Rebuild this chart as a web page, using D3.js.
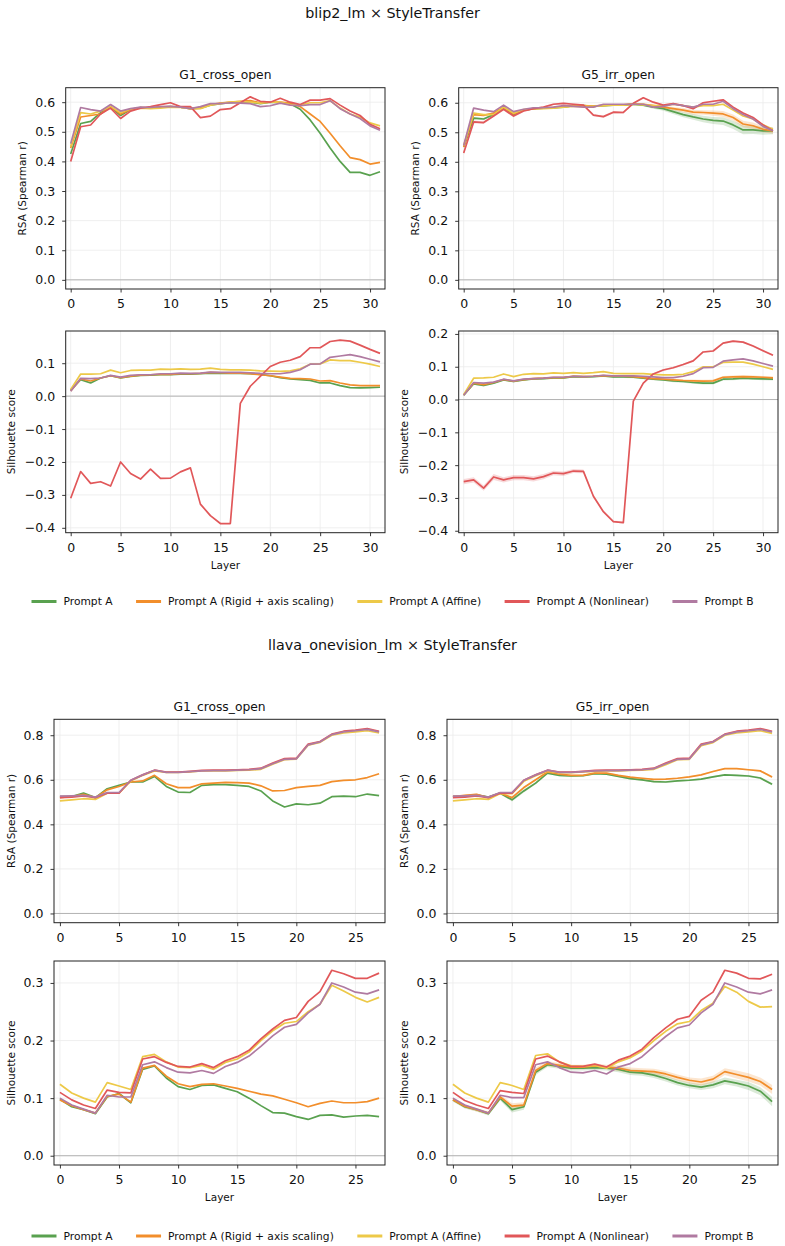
<!DOCTYPE html>
<html>
<head>
<meta charset="utf-8">
<script src="https://cdn.jsdelivr.net/npm/d3@7"></script>
<style>
  body { margin: 0; background: #fff; }
  svg { display: block; font-family: "DejaVu Sans", sans-serif; }
</style>
</head>
<body>
<div id="chart"></div>
<script>
/* RSA / silhouette per layer, two models x two generalisation splits */

const seriesNames = ['Prompt A', 'Prompt A (Rigid + axis scaling)', 'Prompt A (Affine)', 'Prompt A (Nonlinear)', 'Prompt B'];
const seriesColors = ['#59a14f', '#f28e2b', '#edc948', '#e15759', '#b07aa1'];

const blipLayers = d3.range(32);
const llavaLayers = d3.range(28);

const blipRsaTicks = [0, 0.1, 0.2, 0.3, 0.4, 0.5, 0.6];
const blipSilTicksG1 = [-0.4, -0.3, -0.2, -0.1, 0, 0.1];
const blipSilTicksG5 = [-0.4, -0.3, -0.2, -0.1, 0, 0.1, 0.2];
const llavaRsaTicks = [0, 0.2, 0.4, 0.6, 0.8];
const llavaSilTicks = [0, 0.1, 0.2, 0.3];
const blipLayerTicks = [0, 5, 10, 15, 20, 25, 30];
const llavaLayerTicks = [0, 5, 10, 15, 20, 25];

// ---- blip2_lm, G1_cross_open
const blipG1Rsa = [
  [0.425,0.528,0.535,0.565,0.585,0.555,0.575,0.582,0.580,0.583,0.585,0.583,0.578,0.580,0.590,0.595,0.598,0.600,0.600,0.595,0.600,0.598,0.595,0.576,0.540,0.495,0.445,0.400,0.363,0.363,0.353,0.365],
  [0.445,0.550,0.555,0.560,0.585,0.560,0.575,0.582,0.580,0.584,0.585,0.583,0.578,0.580,0.592,0.597,0.600,0.603,0.605,0.598,0.600,0.600,0.597,0.585,0.560,0.535,0.495,0.453,0.413,0.406,0.391,0.397],
  [0.450,0.565,0.560,0.570,0.585,0.565,0.577,0.580,0.578,0.580,0.583,0.582,0.578,0.578,0.590,0.595,0.600,0.602,0.600,0.597,0.600,0.600,0.592,0.590,0.598,0.598,0.605,0.580,0.560,0.550,0.530,0.520],
  [0.400,0.517,0.523,0.560,0.580,0.545,0.570,0.580,0.585,0.592,0.598,0.585,0.585,0.548,0.553,0.575,0.578,0.598,0.618,0.603,0.600,0.613,0.600,0.592,0.607,0.607,0.612,0.590,0.570,0.555,0.525,0.510],
  [0.460,0.582,0.575,0.570,0.592,0.570,0.578,0.583,0.582,0.585,0.586,0.583,0.578,0.585,0.595,0.595,0.598,0.597,0.595,0.585,0.588,0.597,0.590,0.588,0.592,0.592,0.605,0.578,0.560,0.545,0.520,0.505]
];
const blipG1Sil = [
  [0.018,0.050,0.040,0.055,0.062,0.055,0.060,0.063,0.064,0.065,0.065,0.067,0.067,0.068,0.070,0.069,0.069,0.069,0.068,0.066,0.062,0.056,0.052,0.050,0.048,0.040,0.040,0.032,0.026,0.025,0.026,0.027],
  [0.016,0.052,0.046,0.055,0.062,0.056,0.061,0.064,0.065,0.066,0.066,0.068,0.068,0.069,0.072,0.071,0.070,0.070,0.068,0.065,0.062,0.058,0.054,0.053,0.052,0.046,0.047,0.040,0.034,0.032,0.032,0.032],
  [0.020,0.067,0.067,0.068,0.079,0.071,0.078,0.079,0.079,0.082,0.081,0.083,0.081,0.082,0.085,0.081,0.080,0.080,0.079,0.077,0.076,0.075,0.077,0.083,0.097,0.098,0.110,0.108,0.108,0.103,0.097,0.090],
  [-0.310,-0.229,-0.265,-0.260,-0.273,-0.200,-0.235,-0.252,-0.222,-0.250,-0.249,-0.230,-0.218,-0.328,-0.363,-0.387,-0.387,-0.022,0.030,0.060,0.090,0.103,0.109,0.120,0.147,0.147,0.166,0.170,0.167,0.155,0.142,0.130],
  [0.015,0.054,0.053,0.055,0.063,0.058,0.063,0.065,0.065,0.068,0.068,0.070,0.069,0.070,0.073,0.072,0.072,0.072,0.071,0.069,0.068,0.068,0.072,0.080,0.097,0.098,0.118,0.122,0.126,0.120,0.112,0.104]
];

// ---- blip2_lm, G5_irr_open
const blipG5Rsa = [
  [0.450,0.548,0.545,0.560,0.585,0.560,0.575,0.580,0.582,0.583,0.585,0.590,0.590,0.588,0.590,0.592,0.592,0.595,0.592,0.585,0.580,0.570,0.560,0.552,0.545,0.540,0.538,0.525,0.508,0.508,0.505,0.505],
  [0.450,0.560,0.557,0.565,0.585,0.562,0.575,0.580,0.582,0.584,0.586,0.590,0.590,0.589,0.591,0.593,0.593,0.596,0.595,0.590,0.585,0.580,0.575,0.568,0.567,0.565,0.562,0.550,0.528,0.522,0.510,0.505],
  [0.455,0.565,0.560,0.560,0.585,0.565,0.577,0.580,0.580,0.582,0.585,0.588,0.588,0.588,0.590,0.592,0.592,0.595,0.593,0.590,0.590,0.595,0.590,0.585,0.590,0.590,0.595,0.575,0.555,0.545,0.525,0.510],
  [0.430,0.535,0.533,0.555,0.578,0.555,0.572,0.580,0.585,0.595,0.598,0.595,0.592,0.558,0.553,0.568,0.567,0.598,0.617,0.602,0.592,0.597,0.590,0.580,0.600,0.605,0.610,0.585,0.565,0.550,0.525,0.505],
  [0.455,0.582,0.575,0.570,0.592,0.570,0.578,0.583,0.583,0.585,0.590,0.588,0.585,0.585,0.595,0.595,0.595,0.595,0.595,0.585,0.588,0.595,0.590,0.585,0.595,0.595,0.605,0.580,0.560,0.545,0.520,0.505]
];
const blipG5RsaBand = [
  [0.004,0.004,0.004,0.004,0.003,0.004,0.003,0.003,0.003,0.003,0.003,0.003,0.003,0.003,0.003,0.003,0.003,0.004,0.004,0.005,0.007,0.008,0.009,0.010,0.011,0.012,0.013,0.014,0.015,0.014,0.013,0.012],
  [0.003,0.003,0.003,0.003,0.003,0.003,0.003,0.003,0.003,0.003,0.003,0.003,0.003,0.003,0.003,0.003,0.003,0.003,0.003,0.004,0.005,0.006,0.007,0.008,0.008,0.009,0.010,0.010,0.011,0.011,0.010,0.010],
  null,
  [0.005,0.005,0.004,0.004,0.004,0.004,0.003,0.003,0.003,0.003,0.003,0.003,0.003,0.004,0.004,0.004,0.004,0.003,0.003,0.003,0.003,0.003,0.003,0.003,0.003,0.003,0.003,0.003,0.003,0.003,0.003,0.003],
  null
];
const blipG5Sil = [
  [0.013,0.048,0.043,0.050,0.060,0.055,0.060,0.063,0.064,0.066,0.066,0.070,0.069,0.070,0.072,0.069,0.069,0.068,0.065,0.062,0.060,0.057,0.055,0.052,0.050,0.050,0.062,0.063,0.065,0.064,0.063,0.062],
  [0.014,0.050,0.045,0.052,0.061,0.056,0.061,0.064,0.065,0.067,0.067,0.071,0.070,0.071,0.073,0.071,0.071,0.070,0.067,0.064,0.062,0.060,0.058,0.057,0.056,0.057,0.068,0.069,0.070,0.069,0.068,0.066],
  [0.015,0.065,0.066,0.068,0.078,0.070,0.077,0.079,0.078,0.081,0.080,0.082,0.080,0.082,0.085,0.080,0.079,0.079,0.079,0.077,0.075,0.075,0.077,0.085,0.100,0.100,0.113,0.114,0.114,0.108,0.100,0.092],
  [-0.250,-0.245,-0.270,-0.236,-0.245,-0.238,-0.238,-0.242,-0.235,-0.224,-0.226,-0.218,-0.219,-0.295,-0.342,-0.372,-0.375,-0.005,0.050,0.078,0.090,0.097,0.107,0.118,0.145,0.148,0.172,0.178,0.175,0.163,0.149,0.135],
  [0.013,0.052,0.050,0.053,0.062,0.057,0.062,0.064,0.065,0.068,0.068,0.071,0.070,0.071,0.074,0.072,0.072,0.072,0.071,0.069,0.067,0.067,0.071,0.079,0.097,0.098,0.117,0.121,0.124,0.118,0.110,0.102]
];
const blipG5SilBand = [
  [0.003,0.003,0.003,0.003,0.003,0.003,0.003,0.003,0.003,0.003,0.003,0.003,0.003,0.003,0.003,0.003,0.003,0.003,0.003,0.003,0.003,0.004,0.004,0.004,0.004,0.004,0.004,0.004,0.004,0.004,0.004,0.004],
  [0.003,0.003,0.003,0.003,0.003,0.003,0.003,0.003,0.003,0.003,0.003,0.003,0.003,0.003,0.003,0.003,0.003,0.003,0.003,0.003,0.003,0.004,0.004,0.004,0.004,0.004,0.004,0.004,0.004,0.004,0.004,0.004],
  null,
  [0.008,0.008,0.008,0.009,0.008,0.008,0.008,0.008,0.008,0.007,0.007,0.006,0.006,0.005,0.004,0.003,0.003,0.003,0.003,0.003,0.003,0.003,0.003,0.003,0.003,0.003,0.003,0.003,0.003,0.003,0.003,0.003],
  null
];

// ---- llava_onevision_lm, G1_cross_open
const llavaG1Rsa = [
  [0.525,0.525,0.540,0.520,0.560,0.575,0.590,0.590,0.615,0.570,0.545,0.543,0.575,0.578,0.578,0.575,0.570,0.550,0.505,0.478,0.492,0.488,0.495,0.524,0.527,0.524,0.536,0.529],
  [0.520,0.525,0.535,0.520,0.555,0.570,0.590,0.595,0.620,0.582,0.565,0.565,0.582,0.585,0.588,0.587,0.585,0.573,0.550,0.552,0.565,0.570,0.575,0.592,0.597,0.600,0.610,0.627],
  [0.505,0.510,0.515,0.512,0.540,0.540,0.595,0.620,0.640,0.633,0.633,0.635,0.640,0.640,0.640,0.642,0.643,0.647,0.670,0.690,0.693,0.755,0.768,0.800,0.810,0.815,0.820,0.810],
  [0.520,0.522,0.528,0.520,0.540,0.540,0.598,0.622,0.643,0.635,0.635,0.638,0.642,0.643,0.643,0.645,0.647,0.652,0.675,0.695,0.697,0.760,0.772,0.805,0.818,0.823,0.830,0.818],
  [0.527,0.528,0.530,0.522,0.543,0.543,0.598,0.622,0.643,0.633,0.633,0.637,0.640,0.641,0.641,0.643,0.645,0.650,0.672,0.692,0.694,0.757,0.770,0.803,0.815,0.820,0.826,0.815]
];
const llavaG1Sil = [
  [0.098,0.085,0.080,0.073,0.102,0.108,0.092,0.150,0.156,0.135,0.120,0.115,0.122,0.123,0.117,0.111,0.100,0.087,0.075,0.074,0.068,0.063,0.070,0.071,0.067,0.069,0.070,0.068],
  [0.097,0.087,0.080,0.074,0.103,0.107,0.093,0.152,0.157,0.138,0.125,0.120,0.124,0.125,0.121,0.117,0.112,0.107,0.104,0.098,0.092,0.085,0.091,0.095,0.092,0.092,0.094,0.100],
  [0.124,0.109,0.100,0.093,0.127,0.121,0.115,0.172,0.176,0.163,0.154,0.153,0.157,0.150,0.162,0.168,0.180,0.200,0.217,0.230,0.233,0.250,0.263,0.296,0.286,0.275,0.267,0.275],
  [0.110,0.097,0.088,0.082,0.114,0.110,0.109,0.168,0.172,0.162,0.155,0.154,0.160,0.153,0.165,0.172,0.183,0.203,0.220,0.235,0.240,0.268,0.285,0.322,0.316,0.308,0.308,0.317],
  [0.100,0.088,0.081,0.074,0.105,0.102,0.102,0.158,0.163,0.153,0.145,0.144,0.148,0.143,0.155,0.162,0.173,0.190,0.208,0.223,0.228,0.248,0.263,0.300,0.293,0.284,0.281,0.288]
];

// ---- llava_onevision_lm, G5_irr_open
const llavaG5Rsa = [
  [0.525,0.525,0.532,0.522,0.540,0.510,0.550,0.585,0.630,0.620,0.617,0.618,0.628,0.625,0.615,0.605,0.600,0.592,0.590,0.595,0.598,0.603,0.613,0.622,0.620,0.617,0.608,0.580],
  [0.525,0.530,0.535,0.520,0.540,0.520,0.565,0.600,0.635,0.625,0.620,0.620,0.630,0.630,0.620,0.612,0.607,0.602,0.603,0.607,0.613,0.622,0.637,0.650,0.650,0.645,0.640,0.612],
  [0.505,0.510,0.515,0.512,0.538,0.538,0.593,0.618,0.638,0.632,0.632,0.635,0.638,0.640,0.640,0.642,0.643,0.647,0.668,0.690,0.692,0.753,0.767,0.800,0.810,0.815,0.820,0.808],
  [0.520,0.522,0.528,0.520,0.540,0.540,0.598,0.622,0.643,0.635,0.635,0.638,0.642,0.643,0.643,0.645,0.647,0.652,0.675,0.695,0.697,0.760,0.772,0.805,0.818,0.823,0.830,0.818],
  [0.527,0.528,0.530,0.522,0.543,0.543,0.598,0.622,0.643,0.633,0.633,0.637,0.640,0.641,0.641,0.643,0.645,0.650,0.672,0.692,0.694,0.757,0.770,0.803,0.815,0.820,0.826,0.815]
];
const llavaG5RsaBand = [
  [0.004,0.004,0.004,0.004,0.005,0.008,0.007,0.005,0.004,0.004,0.004,0.004,0.004,0.004,0.004,0.004,0.004,0.004,0.004,0.004,0.004,0.004,0.004,0.004,0.004,0.004,0.005,0.006],
  [0.003,0.003,0.003,0.003,0.004,0.006,0.005,0.004,0.003,0.003,0.003,0.003,0.003,0.003,0.003,0.003,0.003,0.003,0.003,0.003,0.003,0.003,0.003,0.003,0.003,0.003,0.004,0.005],
  null, null, null
];
const llavaG5Sil = [
  [0.097,0.085,0.080,0.073,0.100,0.080,0.085,0.145,0.158,0.155,0.152,0.152,0.153,0.152,0.150,0.145,0.144,0.140,0.134,0.127,0.122,0.119,0.123,0.130,0.126,0.121,0.112,0.094],
  [0.097,0.086,0.080,0.074,0.102,0.086,0.088,0.148,0.160,0.157,0.154,0.154,0.156,0.154,0.152,0.148,0.147,0.146,0.142,0.136,0.131,0.128,0.133,0.146,0.141,0.136,0.129,0.115],
  [0.124,0.109,0.100,0.093,0.127,0.122,0.115,0.174,0.177,0.163,0.156,0.155,0.157,0.152,0.163,0.170,0.182,0.200,0.216,0.229,0.233,0.252,0.265,0.294,0.284,0.268,0.258,0.259],
  [0.110,0.096,0.088,0.082,0.113,0.110,0.108,0.168,0.173,0.163,0.155,0.155,0.159,0.154,0.166,0.173,0.185,0.205,0.222,0.237,0.242,0.270,0.284,0.322,0.317,0.308,0.307,0.315],
  [0.100,0.088,0.081,0.074,0.105,0.101,0.101,0.158,0.163,0.153,0.145,0.144,0.148,0.142,0.154,0.160,0.172,0.190,0.207,0.222,0.227,0.248,0.263,0.300,0.293,0.284,0.281,0.288]
];
const llavaG5SilBand = [
  [0.003,0.003,0.003,0.003,0.004,0.005,0.005,0.005,0.004,0.004,0.004,0.004,0.004,0.004,0.005,0.005,0.005,0.005,0.005,0.005,0.005,0.005,0.006,0.006,0.006,0.007,0.007,0.008],
  [0.003,0.003,0.003,0.003,0.004,0.005,0.005,0.005,0.004,0.004,0.004,0.004,0.004,0.004,0.005,0.005,0.005,0.005,0.005,0.005,0.005,0.006,0.006,0.006,0.007,0.007,0.007,0.008],
  null, null, null
];

// ---- layout
const W = 785, H = 1246;
const svg = d3.select('#chart').append('svg').attr('width', W).attr('height', H);

const blocks = [
  { title: 'blip2_lm × StyleTransfer', titleY: 18, legendY: 601.5, layers: blipLayers, xTicks: blipLayerTicks,
    cols: [[65.7, 385], [458.7, 778]], rows: [[87.7, 289], [331, 532.7]],
    panels: [
      { row: 0, col: 0, title: 'G1_cross_open', data: blipG1Rsa, band: null, ticks: blipRsaTicks, ylabel: 'RSA (Spearman r)', labelX: 22.7 },
      { row: 0, col: 1, title: 'G5_irr_open', data: blipG5Rsa, band: blipG5RsaBand, ticks: blipRsaTicks, ylabel: 'RSA (Spearman r)', labelX: 415.3 },
      { row: 1, col: 0, data: blipG1Sil, band: null, ticks: blipSilTicksG1, ylabel: 'Silhouette score', labelX: 11.7 },
      { row: 1, col: 1, data: blipG5Sil, band: blipG5SilBand, ticks: blipSilTicksG5, ylabel: 'Silhouette score', labelX: 404.7 }
    ] },
  { title: 'llava_onevision_lm × StyleTransfer', titleY: 650, legendY: 1236, layers: llavaLayers, xTicks: llavaLayerTicks,
    cols: [[54, 385], [447, 778]], rows: [[719.3, 922.7], [961, 1165]],
    panels: [
      { row: 0, col: 0, title: 'G1_cross_open', data: llavaG1Rsa, band: null, ticks: llavaRsaTicks, ylabel: 'RSA (Spearman r)', labelX: 11.7 },
      { row: 0, col: 1, title: 'G5_irr_open', data: llavaG5Rsa, band: llavaG5RsaBand, ticks: llavaRsaTicks, ylabel: 'RSA (Spearman r)', labelX: 404.7 },
      { row: 1, col: 0, data: llavaG1Sil, band: null, ticks: llavaSilTicks, ylabel: 'Silhouette score', labelX: 11.7 },
      { row: 1, col: 1, data: llavaG5Sil, band: llavaG5SilBand, ticks: llavaSilTicks, ylabel: 'Silhouette score', labelX: 404.7 }
    ] }
];

const fmt = d3.format('.1f');
const TICK_FS = 12.5, LABEL_FS = 10.5, TITLE_FS = 12.3;

function drawPanel(block, p){
  const [x0, x1] = block.cols[p.col];
  const [y0, y1] = block.rows[p.row];
  const layers = block.layers;
  const n = layers.length;

  // y limits like matplotlib autoscale: include 0 and band, 5% margin
  let lo = 0, hi = 0;
  p.data.forEach((s, i) => s.forEach((v, j) => {
    const e = p.band && p.band[i] ? p.band[i][j] : 0;
    lo = Math.min(lo, v - e); hi = Math.max(hi, v + e);
  }));
  const pad = (hi - lo) * 0.05;

  const x = d3.scaleLinear().domain([-0.5, n - 0.5]).range([x0, x1]);
  const y = d3.scaleLinear().domain([lo - pad, hi + pad]).range([y1, y0]);

  const g = svg.append('g');

  // grid
  g.append('g').selectAll('line').data(block.xTicks).join('line')
    .attr('x1', d => x(d)).attr('x2', d => x(d)).attr('y1', y0).attr('y2', y1)
    .attr('stroke', '#ebebeb').attr('stroke-width', 0.8);
  g.append('g').selectAll('line').data(p.ticks).join('line')
    .attr('x1', x0).attr('x2', x1).attr('y1', d => y(d)).attr('y2', d => y(d))
    .attr('stroke', '#ebebeb').attr('stroke-width', 0.8);

  // zero reference
  g.append('line').attr('x1', x0).attr('x2', x1).attr('y1', y(0)).attr('y2', y(0))
    .attr('stroke', '#b3b3b3').attr('stroke-width', 1);

  // bands
  p.data.forEach((s, i) => {
    if (!p.band || !p.band[i]) return;
    const b = p.band[i];
    const area = d3.area().x((d, j) => x(layers[j])).y0((d, j) => y(d - b[j])).y1((d, j) => y(d + b[j]));
    g.append('path').datum(s).attr('d', area).attr('fill', seriesColors[i]).attr('fill-opacity', 0.22);
  });

  // lines
  const line = d3.line().x((d, j) => x(layers[j])).y(d => y(d));
  p.data.forEach((s, i) => {
    g.append('path').datum(s).attr('d', line)
      .attr('fill', 'none').attr('stroke', seriesColors[i]).attr('stroke-width', 1.7)
      .attr('stroke-linejoin', 'round');
  });

  // axes
  const xAxis = d3.axisBottom(x).tickValues(block.xTicks).tickFormat(d3.format('d')).tickSize(3.5).tickPadding(7);
  const yAxis = d3.axisLeft(y).tickValues(p.ticks).tickFormat(fmt).tickSize(3.5).tickPadding(7);
  const gx = g.append('g').attr('transform', `translate(0,${y1})`).call(xAxis);
  const gy = g.append('g').attr('transform', `translate(${x0},0)`).call(yAxis);
  [gx, gy].forEach(a => {
    a.select('.domain').remove();
    a.selectAll('.tick line').attr('stroke', '#222').attr('stroke-width', 0.9);
    a.selectAll('.tick text').attr('fill', '#111').style('font-size', TICK_FS + 'px').style('font-family', '"DejaVu Sans", sans-serif');
  });

  // frame
  g.append('rect').attr('x', x0).attr('y', y0).attr('width', x1 - x0).attr('height', y1 - y0)
    .attr('fill', 'none').attr('stroke', '#222').attr('stroke-width', 1);

  if (p.title) {
    g.append('text').attr('x', (x0 + x1) / 2).attr('y', y0 - 8.5).attr('text-anchor', 'middle')
      .style('font-size', TITLE_FS + 'px').attr('fill', '#111').text(p.title);
  }
  g.append('text')
    .attr('transform', `translate(${p.labelX},${(y0 + y1) / 2}) rotate(-90)`)
    .attr('text-anchor', 'middle').attr('dy', '0.35em')
    .style('font-size', LABEL_FS + 'px').attr('fill', '#111').text(p.ylabel);
  if (p.row === 1) {
    g.append('text').attr('x', (x0 + x1) / 2).attr('y', y1 + 36).attr('text-anchor', 'middle')
      .style('font-size', LABEL_FS + 'px').attr('fill', '#111').text('Layer');
  }
}

function drawLegend(cy){
  const lg = svg.append('g');
  const handle = 25, gap = 7, colGap = 23.5;
  let cx = 0;
  seriesNames.forEach((name, i) => {
    const it = lg.append('g');
    it.append('line').attr('x1', 0).attr('x2', handle).attr('y1', 0).attr('y2', 0)
      .attr('stroke', seriesColors[i]).attr('stroke-width', 3);
    const t = it.append('text').attr('x', handle + gap).attr('dy', '0.35em')
      .style('font-size', '10.7px').attr('fill', '#111').text(name);
    const w = handle + gap + t.node().getComputedTextLength();
    it.attr('transform', `translate(${cx},${cy})`);
    cx += w + colGap;
  });
  const total = cx - colGap;
  lg.attr('transform', `translate(${W / 2 - total / 2},0)`);
}

blocks.forEach(block => {
  svg.append('text').attr('x', W / 2).attr('y', block.titleY).attr('text-anchor', 'middle')
    .style('font-size', '14.3px').attr('fill', '#111').text(block.title);
  block.panels.forEach(p => drawPanel(block, p));
  drawLegend(block.legendY);
});
</script>
</body>
</html>
